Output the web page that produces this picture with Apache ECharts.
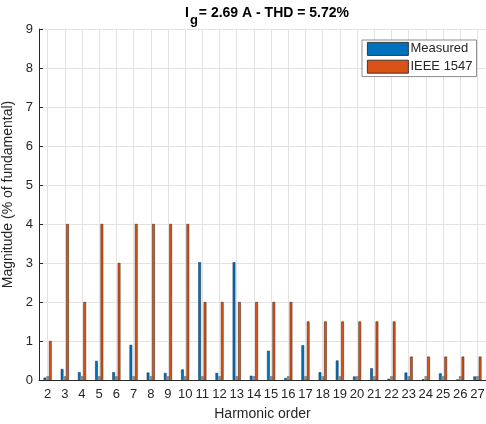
<!DOCTYPE html>
<html>
<head>
<meta charset="utf-8">
<script src="https://cdn.jsdelivr.net/npm/echarts@6/dist/echarts.min.js"></script>
<style>
  html, body { margin: 0; padding: 0; background: #fff; }
  #chart { width: 486px; height: 424px; }
</style>
</head>
<body>
<div id="chart"></div>
<script>
// Harmonic orders 2..27
const harmonics = ['2','3','4','5','6','7','8','9','10','11','12','13','14','15','16','17','18','19','20','21','22','23','24','25','26','27'];

// Measured harmonic magnitudes (% of fundamental)
const measured = [0.06, 0.28, 0.20, 0.49, 0.20, 0.90, 0.19, 0.18, 0.27, 3.02, 0.18, 3.02, 0.11, 0.75, 0.05, 0.89, 0.20, 0.50, 0.09, 0.30, 0.03, 0.19, 0.02, 0.17, 0.01, 0.09];

// Small middle bar in each group
const middle = [0.1, 0.1, 0.1, 0.1, 0.1, 0.1, 0.1, 0.1, 0.1, 0.1, 0.1, 0.1, 0.1, 0.1, 0.1, 0.1, 0.1, 0.1, 0.1, 0.1, 0.1, 0.1, 0.1, 0.1, 0.1, 0.1];

// IEEE 1547 harmonic limits (% of fundamental)
const ieeeLimits = [1, 4, 2, 4, 3, 4, 4, 4, 4, 2, 2, 2, 2, 2, 2, 1.5, 1.5, 1.5, 1.5, 1.5, 1.5, 0.6, 0.6, 0.6, 0.6, 0.6];

const yTicks = [0, 1, 2, 3, 4, 5, 6, 7, 8, 9];

// Half-band positions used only to place vertical grid lines at category centres
const halfSlots = [];
for (let i = 0; i <= harmonics.length * 2; i++) halfSlots.push(String(i));

const FONT = "'Liberation Sans', Arial, Helvetica, sans-serif";
const INK = '#262626';
const GRID = '#e3e3e3';

const chart = echarts.init(document.getElementById('chart'), null, { renderer: 'canvas' });

chart.setOption({
  animation: false,
  backgroundColor: '#ffffff',
  textStyle: { fontFamily: FONT },
  title: {
    text: '{i|I}{g|g}{t|= 2.69 A - THD = 5.72%}',
    left: 262,
    top: 1,
    textAlign: 'center',
    textStyle: {
      rich: {
        i: { fontFamily: FONT, fontSize: 14, fontWeight: 'bold', color: '#000', lineHeight: 18, verticalAlign: 'top' },
        g: { fontFamily: FONT, fontSize: 13, fontWeight: 'bold', color: '#000', lineHeight: 18, verticalAlign: 'top', padding: [8, 1, 0, 1] },
        t: { fontFamily: FONT, fontSize: 14, fontWeight: 'bold', color: '#000', lineHeight: 18, verticalAlign: 'top' }
      }
    }
  },
  legend: {
    data: ['Measured', 'IEEE 1547'],
    orient: 'vertical',
    left: 362,
    top: 40,
    padding: [2, 4, 3, 5],
    icon: 'rect',
    itemWidth: 41,
    itemHeight: 13,
    itemGap: 4,
    backgroundColor: '#ffffff',
    borderColor: '#8c8c8c',
    borderWidth: 1,
    borderRadius: 0,
    itemStyle: { borderColor: '#1a1a1a', borderWidth: 0.8 },
    textStyle: { fontFamily: FONT, fontSize: 13, color: INK, padding: [0, 0, 0, -3] }
  },
  grid: { left: 39, right: 0, top: 29, bottom: 44, containLabel: false, outerBoundsMode: 'none' },
  xAxis: [
    {
      type: 'category',
      data: harmonics,
      name: 'Harmonic order',
      nameLocation: 'middle',
      nameGap: 27,
      nameTextStyle: { fontFamily: FONT, fontSize: 14, color: INK },
      axisLine: { show: true, lineStyle: { color: INK, width: 1 } },
      axisTick: { show: true, inside: true, length: 3, alignWithLabel: true, lineStyle: { color: INK } },
      axisLabel: { fontFamily: FONT, fontSize: 13, color: INK, margin: 8, interval: 0 },
      splitLine: { show: false }
    },
    {
      type: 'category',
      data: halfSlots,
      boundaryGap: false,
      position: 'bottom',
      axisLine: { show: false },
      axisTick: { show: false },
      axisLabel: { show: false },
      splitLine: {
        show: true,
        interval: function (index) { return index % 2 === 1; },
        lineStyle: { color: GRID, width: 1 }
      }
    }
  ],
  yAxis: {
    type: 'value',
    min: yTicks[0],
    max: yTicks[yTicks.length - 1],
    interval: 1,
    name: 'Magnitude (% of fundamental)',
    nameLocation: 'middle',
    nameGap: 20,
    nameTextStyle: { fontFamily: FONT, fontSize: 14, color: INK, padding: [0, 0, 0, 20] },
    axisLine: { show: true, lineStyle: { color: INK, width: 1 } },
    axisTick: { show: true, inside: true, length: 4, lineStyle: { color: INK } },
    axisLabel: { fontFamily: FONT, fontSize: 13, color: INK, margin: 6 },
    splitLine: { show: true, lineStyle: { color: GRID, width: 1 } }
  },
  series: [
    {
      name: 'Measured',
      type: 'bar',
      xAxisIndex: 0,
      data: measured,
      barWidth: 2.7,
      barGap: '0%',
      itemStyle: { color: '#0072BD', borderColor: '#0d2a45', borderWidth: 0.5 }
    },
    {
      name: 'middle',
      type: 'bar',
      xAxisIndex: 0,
      data: middle,
      barWidth: 2.7,
      barGap: '0%',
      itemStyle: { color: '#8a8a8a', borderWidth: 0 }
    },
    {
      name: 'IEEE 1547',
      type: 'bar',
      xAxisIndex: 0,
      data: ieeeLimits,
      barWidth: 2.7,
      barGap: '0%',
      itemStyle: { color: '#D95319', borderColor: '#3a1a0a', borderWidth: 0.5 }
    }
  ]
});
</script>
</body>
</html>
